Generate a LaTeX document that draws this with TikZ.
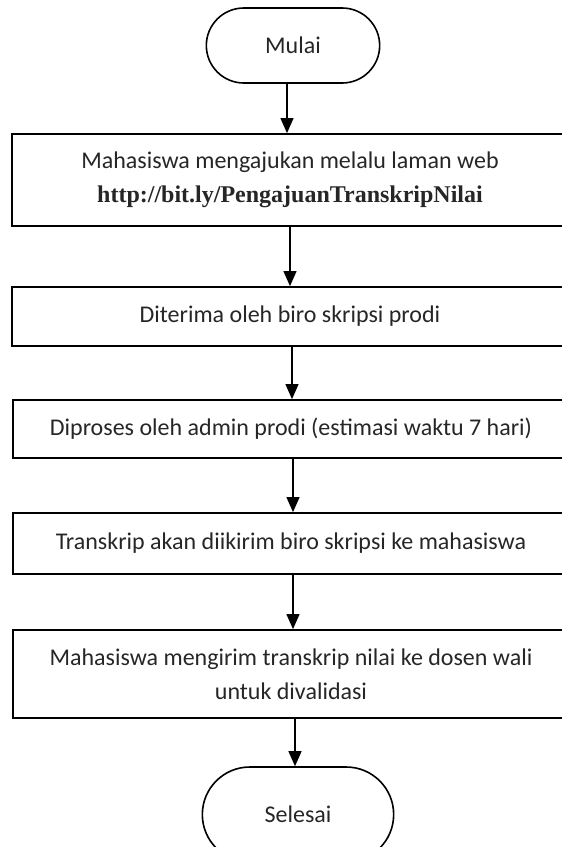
\documentclass[tikz,border=0pt]{standalone}
\usepackage{fontspec}
\setmainfont{Carlito}
\newfontfamily\urlfont{Liberation Serif}
\usetikzlibrary{arrows.meta}
\tikzset{
  flowbox/.style={draw, line width=1.8pt, rectangle, minimum width=556pt,
    inner sep=0pt, align=center, text=black!85},
  terminal/.style={draw, line width=1.6pt, rounded rectangle, minimum width=180pt,
    minimum height=75pt, text=black!85},
  flowarrow/.style={line width=1.2pt, -{Triangle[width=13pt,length=15pt]}}
}
\usetikzlibrary{shapes.misc}
\begin{document}
\begin{tikzpicture}[x=1pt,y=-1pt,font=\fontsize{24}{34}\selectfont]
      \useasboundingbox (0,0) rectangle (562,847);
      \draw
        (293,45.5) node[terminal] (mulai){Mulai}
        (290,180) node[flowbox, minimum height=92pt] (ajukan){Mahasiswa mengajukan melalu laman web\\
          {\urlfont\bfseries http://bit.ly/PengajuanTranskripNilai}}
        (290,316.5) node[flowbox, minimum height=59pt] (terima){Diterima oleh biro skripsi prodi}
        (291,429) node[flowbox, minimum height=58pt] (proses){Diproses oleh admin prodi (estimasi waktu 7 hari)}
        (291,543.5) node[flowbox, minimum height=61pt] (kirim){Transkrip akan diikirim biro skripsi ke mahasiswa}
        (291,674) node[flowbox, minimum height=88pt] (validasi){Mahasiswa mengirim transkrip nilai ke dosen wali\\untuk divalidasi}
        (298,814.5) node[terminal, minimum width=198pt, minimum height=95pt] (selesai){Selesai};
      \begin{scope}[flowarrow]
        \draw (mulai.south -| 287,0) to (ajukan.north -| 287,0);
        \draw (ajukan.south -| 290,0) to (terima.north -| 290,0);
        \draw (terima.south -| 292,0) to (proses.north -| 292,0);
        \draw (proses.south -| 293,0) to (kirim.north -| 293,0);
        \draw (kirim.south -| 293,0) to (validasi.north -| 293,0);
        \draw (validasi.south -| 295,0) to (selesai.north -| 295,0);
      \end{scope}
    \end{tikzpicture}
\end{document}
